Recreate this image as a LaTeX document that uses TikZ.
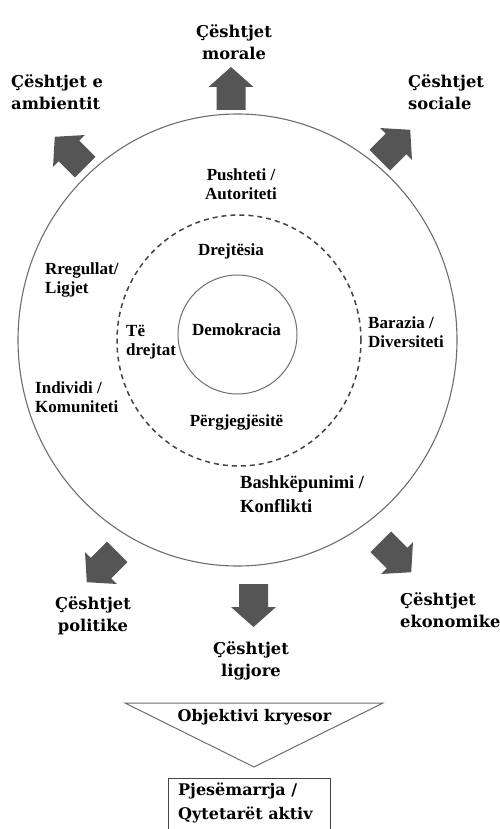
\documentclass[tikz,border=0pt]{standalone}
\usepackage{fontspec}
\setmainfont{Liberation Serif}
\newfontfamily\djvserif{DejaVu Serif}
\newcommand\innerlbl{\fontsize{17}{19.5}\selectfont\bfseries}
\newcommand\bigginnerlbl{\fontsize{18.5}{24}\selectfont\bfseries}
\newcommand\outerlbl{\djvserif\bfseries\fontsize{16.3}{22}\selectfont}
\newcommand\goallbl{\djvserif\bfseries\fontsize{16}{24}\selectfont}
\definecolor{arrowgray}{HTML}{555555}
\definecolor{ringgray}{HTML}{6E6E6E}
\definecolor{dashgray}{HTML}{444444}
\begin{document}
\begin{tikzpicture}[x=1pt,y=-1pt,
  inlbl/.style={font=\innerlbl, inner sep=0pt, align=left},
  outlbl/.style={font=\outerlbl, inner sep=0pt, align=left},
  goal/.style={font=\goallbl, inner sep=0pt, align=left},
  ring/.style={draw=ringgray, line width=1.1pt},
  dashring/.style={draw=dashgray, line width=1.5pt, dash pattern=on 5pt off 4pt},
  blockarrow/.pic={\fill[arrowgray] (-21.5,-14.5) -- (1.5,-14.5) -- (1.5,-22.5) -- (21.5,0) -- (1.5,22.5) -- (1.5,14.5) -- (-21.5,14.5) -- cycle;}
]
\useasboundingbox (0,0) rectangle (500,829);
\fill[white] (0,0) rectangle (500,829);

% rings
\draw[ring] (237.5,340) ellipse [x radius=219.5pt, y radius=226pt];
\draw[dashring] (239,340.5) ellipse [x radius=122pt, y radius=125.5pt];
\draw[ring, line width=1pt] (237.5,334.5) ellipse [x radius=59.5pt, y radius=59.5pt];

% inner labels
\node[inlbl, align=center] (push) at (241,184) {Pushteti /\\Autoriteti};
\node[inlbl] (drej) at (231,251) {Drejtësia};
\node[inlbl, anchor=west] (rreg) at (45,280) {Rregullat/\\Ligjet};
\node[inlbl, anchor=west] (te) at (126,342) {Të\\drejtat};
\node[inlbl] (demo) at (236.5,330) {Demokracia};
\node[inlbl, anchor=west] (bar) at (368,332) {Barazia /\\Diversiteti};
\node[inlbl, anchor=west] (ind) at (35,397) {Individi /\\Komuniteti};
\node[inlbl] (perg) at (236.5,422) {Përgjegjësitë};
\node[inlbl, font=\bigginnerlbl, anchor=west] (bash) at (240,494) {Bashkëpunimi /\\Konflikti};

% block arrows
\pic[rotate=90] (arrmor) at (231,88.5) {blockarrow};
\pic[rotate=135] (arramb) at (70,152) {blockarrow};
\pic[rotate=45] (arrsoc) at (395,145) {blockarrow};
\pic[rotate=225] (arrpol) at (102,567) {blockarrow};
\pic[rotate=-45] (arreko) at (396,557) {blockarrow};
\pic[rotate=-90] (arrlig) at (253.5,605.5) {blockarrow};

% outer labels
\node[outlbl, align=center] (mor) at (234,42) {Çështjet\\morale};
\node[outlbl, anchor=west] (amb) at (11,92) {Çështjet e\\ambientit};
\node[outlbl, anchor=west] (soc) at (408,92) {Çështjet\\sociale};
\node[outlbl, align=center] (pol) at (93,616) {Çështjet\\politike};
\node[outlbl, anchor=west] (eko) at (400,610) {Çështjet\\ekonomike};
\node[outlbl, align=center] (lig) at (251,661) {Çështjet\\ligjore};

% main objective
\draw[draw=ringgray, line width=1pt] (125,703) -- (383,703) -- (254,767) -- cycle;
\node[goal] (obj) at (254.5,717) {Objektivi kryesor};
\draw[draw=dashgray, line width=1pt] (168,778) rectangle (330,845);
\node[goal, anchor=north west] (pje) at (178,783) {Pjesëmarrja /\\Qytetarët aktiv};
\end{tikzpicture}
\end{document}
